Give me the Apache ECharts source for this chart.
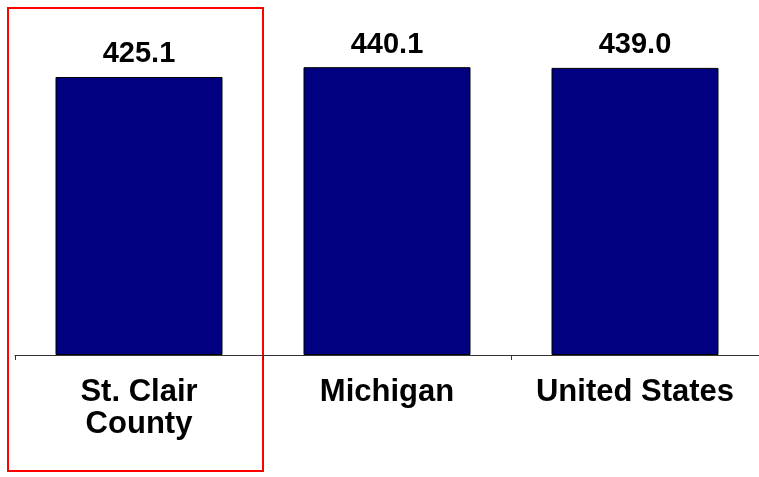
<!DOCTYPE html>
<html>
<head>
<meta charset="utf-8">
<script src="https://cdn.jsdelivr.net/npm/echarts@6/dist/echarts.min.js"></script>
<style>html,body{margin:0;padding:0;background:#fff;}#c{width:759px;height:477px;}</style>
</head>
<body>
<div id="c"></div>
<script>
const categories = ['St. Clair\nCounty', 'Michigan', 'United States'];
const values = [425.1, 440.1, 439.0];

const chart = echarts.init(document.getElementById('c'), null, {renderer: 'canvas'});
chart.setOption({
  animation: false,
  backgroundColor: '#ffffff',
  grid: {left: 15, top: 28, width: 749, height: 327},
  xAxis: {
    type: 'category',
    data: categories,
    axisLine: {lineStyle: {color: '#333333', width: 1}},
    axisTick: {show: true, length: 5, lineStyle: {color: '#333333'}},
    axisLabel: {
      color: '#000', fontFamily: 'Liberation Sans, Arial', fontWeight: 'bold',
      fontSize: 31, lineHeight: 32, margin: 21, interval: 0
    }
  },
  yAxis: {
    type: 'value', min: 0, max: 500, show: false,
    splitLine: {show: false}
  },
  series: [{
    type: 'bar',
    data: values,
    barWidth: 167,
    itemStyle: {color: '#000080', borderColor: '#000000', borderWidth: 1},
    label: {
      show: true, position: 'top', distance: 8,
      formatter: p => p.value.toFixed(1),
      color: '#000', fontFamily: 'Liberation Sans, Arial', fontWeight: 'bold', fontSize: 29
    }
  }],
  graphic: [{
    type: 'rect',
    shape: {x: 8, y: 8, width: 255, height: 463},
    style: {fill: 'none', stroke: '#ff0000', lineWidth: 2}
  }]
});
</script>
</body>
</html>
